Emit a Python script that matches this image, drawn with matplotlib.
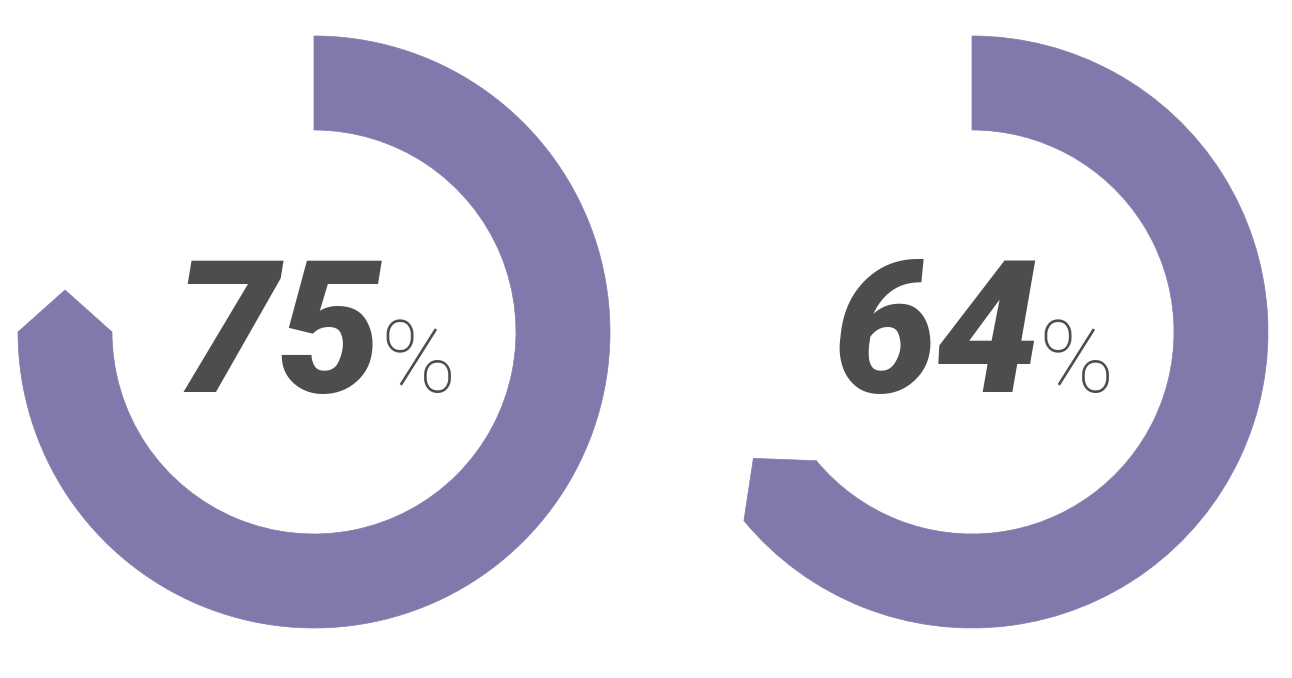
import matplotlib
matplotlib.use("Agg")
import numpy as np
import matplotlib.pyplot as plt
from matplotlib.patches import Wedge, Polygon

# progress values shown by the two rings
values = [75, 64]
labels = ["75", "64"]
centers_x = [314, 972]

ring_color = "#8378ab"
text_color = "#4d4d4d"

W, H = 1292, 678
fig = plt.figure(figsize=(W / 100, H / 100), dpi=100)
ax = fig.add_axes([0, 0, 1, 1])
ax.set_xlim(0, W)
ax.set_ylim(0, H)
ax.set_aspect("equal")
ax.axis("off")

cy = H - 332
r_out = 296
width = 94
r_mid = r_out - width / 2
tip = 42

for cx, v, lab in zip(centers_x, values, labels):
    start = 90
    end = 90 - 360 * v / 100
    ax.add_patch(Wedge((cx, cy), r_out, end, start, width=width,
                       facecolor=ring_color, edgecolor=ring_color, lw=0.5))
    # pointed cap at the end of the arc (clockwise direction)
    t = np.radians(end)
    ux, uy = np.cos(t), np.sin(t)
    dx, dy = np.sin(t), -np.cos(t)
    p_out = (cx + r_out * ux, cy + r_out * uy)
    p_in = (cx + (r_out - width) * ux, cy + (r_out - width) * uy)
    p_tip = (cx + r_mid * ux + tip * dx, cy + r_mid * uy + tip * dy)
    ax.add_patch(Polygon([p_out, p_tip, p_in], closed=True,
                         facecolor=ring_color, edgecolor=ring_color, lw=0.5))

    num = ax.text(cx, H - 392, lab, fontsize=133, family="Roboto",
                  fontweight="black", style="italic", color=text_color,
                  ha="right", va="baseline")
    pct = ax.text(cx, H - 392, "%", fontsize=73, family="Roboto",
                  fontweight="light", color=text_color,
                  ha="left", va="baseline")

    fig.canvas.draw()
    r = fig.canvas.get_renderer()
    b1 = num.get_window_extent(r)
    b2 = pct.get_window_extent(r)
    total = (b1.x1 - b1.x0) + (b2.x1 - b2.x0)
    left = cx + 2 - total / 2
    num.set_position((left + (b1.x1 - b1.x0), H - 392))
    pct.set_position((left + (b1.x1 - b1.x0) - 2, H - 392))

fig.savefig("out.png", dpi=100, facecolor="white")
